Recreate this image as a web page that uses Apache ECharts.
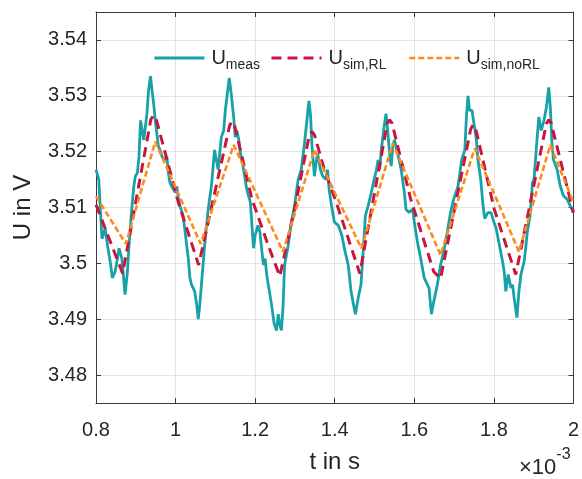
<!DOCTYPE html>
<html><head><meta charset="utf-8">
<script src="https://cdn.jsdelivr.net/npm/echarts@6/dist/echarts.min.js"></script>
<style>html,body{margin:0;padding:0;background:#fff}#c{width:582px;height:479px}</style>
</head><body><div id="c"></div>
<script>
// time in 1e-3 s, voltage in V
const measT = [0.800,0.807,0.810,0.815,0.823,0.829,0.837,0.841,0.848,0.854,0.858,0.865,0.868,0.873,0.879,0.883,0.889,0.895,0.899,0.904,0.908,0.912,0.916,0.920,0.924,0.928,0.932,0.937,0.941,0.945,0.949,0.953,0.957,0.961,0.966,0.974,0.978,0.982,0.986,0.990,0.999,1.003,1.007,1.011,1.019,1.024,1.028,1.032,1.036,1.040,1.044,1.048,1.053,1.057,1.061,1.065,1.073,1.082,1.090,1.098,
1.101,1.107,1.115,1.121,1.125,1.132,1.135,1.140,1.146,1.150,1.154,1.159,1.163,1.171,1.179,1.188,1.192,1.196,1.200,1.207,1.212,1.217,1.221,1.225,1.229,1.233,1.241,1.248,1.254,1.258,1.262,1.266,1.270,1.274,1.283,1.291,1.299,1.308,1.316,1.324,1.331,1.335,1.339,1.343,1.349,1.353,1.357,1.364,1.370,1.378,1.382,1.386,1.392,1.399,
1.409,1.418,1.426,1.434,1.441,1.447,1.452,1.459,1.466,1.471,1.477,1.484,1.492,1.499,1.505,1.509,1.513,1.517,1.524,1.529,1.533,1.538,1.542,1.546,1.550,1.558,1.567,1.575,1.579,1.587,1.596,1.600,1.608,1.616,1.625,1.633,1.637,1.643,1.649,1.658,1.666,1.674,1.683,1.691,1.699,
1.710,1.719,1.727,1.731,1.735,1.739,1.745,1.750,1.756,1.760,1.767,1.772,1.777,1.781,1.785,1.793,1.800,1.806,1.814,1.822,1.826,1.830,1.836,1.843,1.847,1.851,1.858,1.863,1.868,1.876,1.880,1.884,1.891,1.897,1.901,1.907,1.913,1.919,1.926,1.932,1.938,1.942,1.946,1.950,1.959,1.967,1.975,1.984,1.992,2.000];
const measU = [3.5168,3.5150,3.5109,3.5044,3.5062,3.5032,3.4997,3.4974,3.4985,3.5009,3.5027,3.5009,3.4985,3.4944,3.4985,3.5032,3.5091,3.5138,3.5156,3.5162,3.5191,3.5256,3.5259,3.5221,3.5244,3.5268,3.5309,3.5335,3.5309,3.5285,3.5256,3.5232,3.5209,3.5203,3.5191,3.5185,3.5191,3.5162,3.5144,3.5138,3.5127,3.5138,3.5115,3.5103,3.5085,3.5056,3.5032,3.5009,3.4974,3.4962,3.4956,3.4950,3.4927,3.4900,3.4927,3.4962,3.5032,3.5097,3.5138,3.5203,
3.5191,3.5168,3.5226,3.5238,3.5274,3.5315,3.5332,3.5303,3.5262,3.5226,3.5238,3.5221,3.5197,3.5168,3.5132,3.5109,3.5068,3.5027,3.5050,3.5068,3.5056,3.5021,3.4997,3.5009,3.4980,3.4962,3.4927,3.4891,3.4880,3.4909,3.4891,3.4880,3.4921,3.4997,3.5032,3.5074,3.5103,3.5150,3.5168,3.5215,3.5262,3.5291,3.5268,3.5209,3.5156,3.5179,3.5197,3.5168,3.5156,3.5150,3.5168,3.5132,3.5103,3.5074,
3.5068,3.5050,3.5021,3.4997,3.4950,3.4927,3.4909,3.4938,3.4962,3.5015,3.5085,3.5103,3.5127,3.5150,3.5168,3.5185,3.5168,3.5203,3.5244,3.5268,3.5238,3.5197,3.5174,3.5209,3.5221,3.5197,3.5168,3.5127,3.5097,3.5091,3.5097,3.5074,3.5038,3.5009,3.4974,3.4962,3.4956,3.4909,3.4932,3.4962,3.4997,3.5021,3.5056,3.5091,3.5115,
3.5138,3.5185,3.5203,3.5262,3.5300,3.5274,3.5274,3.5250,3.5221,3.5185,3.5150,3.5109,3.5080,3.5080,3.5091,3.5091,3.5074,3.5062,3.5032,3.5003,3.4985,3.4950,3.4980,3.4956,3.4962,3.4938,3.4903,3.4950,3.4980,3.5003,3.5027,3.5056,3.5085,3.5144,3.5150,3.5209,3.5262,3.5238,3.5256,3.5279,3.5315,3.5279,3.5215,3.5185,3.5168,3.5138,3.5121,3.5115,3.5103,3.5091];

const rlT = [0.800,0.867,0.938,0.945,0.951,1.007,1.058,1.136,1.142,1.148,1.192,1.233,1.262,1.299,1.336,1.343,1.349,1.374,1.404,1.463,1.532,1.538,1.544,1.591,1.649,1.666,1.742,1.748,1.754,1.801,1.855,1.932,1.938,1.944,2.000];
const rlU = [3.5105,3.4982,3.5258,3.5265,3.5259,3.5109,3.4997,3.5247,3.5254,3.5248,3.5115,3.5032,3.4977,3.5097,3.5229,3.5236,3.5230,3.5168,3.5109,3.4982,3.5250,3.5257,3.5251,3.5115,3.4985,3.4973,3.5241,3.5248,3.5242,3.5097,3.4980,3.5250,3.5257,3.5251,3.5091];

const norlT = [0.800,0.875,0.949,1.063,1.146,1.270,1.349,1.467,1.546,1.666,1.752,1.863,1.942,2.000];
const norlU = [3.5120,3.5035,3.5218,3.5035,3.5212,3.5021,3.5203,3.5027,3.5215,3.5015,3.5206,3.5021,3.5212,3.5109];

const xTicks = [0.8,1,1.2,1.4,1.6,1.8,2];
const yTicks = [3.48,3.49,3.5,3.51,3.52,3.53,3.54];
const names = ['meas','sim,RL','sim,noRL'];

const FONT = '"Liberation Sans", Arial, Helvetica, sans-serif';
const TXT = '#262626';
const cols = ['#17a2a8','#c8163e','#ff8a1c'];
const widths = [2.8, 3, 2.6];
const dashes = ['solid', [10,6], [6,3]];
const zip = (a,b)=>a.map((t,i)=>[t,b[i]]);

const axisLine = {show:true, lineStyle:{color:'#3a3a3a', width:1}};
const tick = {show:true, inside:true, length:5, lineStyle:{color:'#3a3a3a', width:1}};
const fmtX = v => String(+(+v).toFixed(1));
const fmtY = v => (+v).toFixed(2).replace(/0$/,'');

function legendAt(idx, left){
  return {
    show:true, left:left, top:40, orient:'horizontal',
    itemWidth:50, itemHeight:14, itemGap:0, padding:0,
    data:[{name:names[idx]}],
    itemStyle:{opacity:0},
    lineStyle:{color:cols[idx], width:widths[idx], type:dashes[idx]},
    formatter: n => '{u|U}{s|' + n + '}',
    textStyle:{color:TXT, fontFamily:FONT, padding:[0,0,0,2],
      rich:{
        u:{fontSize:20, fontFamily:FONT, color:TXT, lineHeight:36, verticalAlign:'middle'},
        s:{fontSize:14, fontFamily:FONT, color:TXT, lineHeight:14, padding:[18,0,0,0], verticalAlign:'top'}
      }},
    backgroundColor:'rgba(255,255,255,0)'
  };
}

const chart = echarts.init(document.getElementById('c'), null, {renderer:'canvas'});
chart.setOption({
  animation:false,
  backgroundColor:'#ffffff',
  grid:{left:96, right:3, top:12, bottom:73, containLabel:false},
  legend:[legendAt(0,153), legendAt(1,270), legendAt(2,408)],
  xAxis:[{
    type:'value', min:0.8, max:2, interval:0.2, position:'bottom',
    axisLine:axisLine, axisTick:tick,
    axisLabel:{show:true, margin:17, fontSize:20, fontFamily:FONT, color:TXT, formatter:fmtX},
    splitLine:{show:true, lineStyle:{color:'#e4e4e4', width:1}},
    name:'t in s', nameLocation:'middle', nameGap:47,
    nameTextStyle:{fontSize:24, fontFamily:FONT, color:TXT}
  },{
    type:'value', min:0.8, max:2, interval:0.2, position:'top',
    axisLine:axisLine, axisTick:tick, axisLabel:{show:false}, splitLine:{show:false}
  }],
  yAxis:[{
    type:'value', min:3.475, max:3.545, position:'left',
    axisLine:axisLine,
    axisTick:Object.assign({customValues:yTicks}, tick),
    axisLabel:{show:true, margin:9, fontSize:20, fontFamily:FONT, color:TXT, customValues:yTicks, formatter:fmtY},
    splitLine:{show:true, lineStyle:{color:'#e4e4e4', width:1}},
    name:'U in V', nameLocation:'middle', nameGap:61, nameRotate:90,
    nameTextStyle:{fontSize:24, fontFamily:FONT, color:TXT}
  },{
    type:'value', min:3.475, max:3.545, position:'right',
    axisLine:axisLine,
    axisTick:Object.assign({customValues:yTicks}, tick),
    axisLabel:{show:false, customValues:yTicks}, splitLine:{show:false}
  }],
  series:[
    {name:names[0], type:'line', data:zip(measT,measU), showSymbol:false, symbol:'none',
     lineStyle:{color:cols[0], width:widths[0]}, itemStyle:{color:cols[0]}, z:2},
    {name:names[1], type:'line', data:zip(rlT,rlU), showSymbol:false, symbol:'none',
     lineStyle:{color:cols[1], width:widths[1], type:dashes[1]}, itemStyle:{color:cols[1]}, z:3},
    {name:names[2], type:'line', data:zip(norlT,norlU), showSymbol:false, symbol:'none',
     lineStyle:{color:cols[2], width:widths[2], type:dashes[2]}, itemStyle:{color:cols[2]}, z:4}
  ],
  graphic:[{
    type:'text', left:519, top:447,
    style:{text:'{a|×10}{b|-3}', fill:TXT,
      rich:{a:{fontSize:22, fontFamily:FONT, fill:TXT, lineHeight:32, verticalAlign:'bottom'},
            b:{fontSize:16, fontFamily:FONT, fill:TXT, lineHeight:16, verticalAlign:'top'}}}
  }]
});
</script></body></html>
